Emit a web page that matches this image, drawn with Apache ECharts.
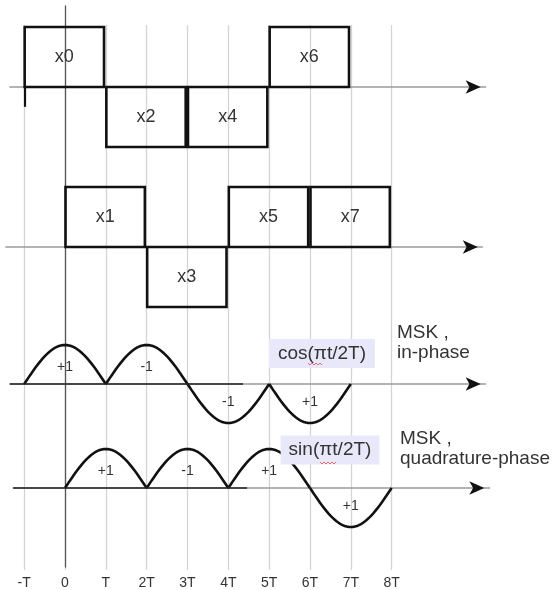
<!DOCTYPE html>
<html>
<head>
<meta charset="utf-8">
<script src="https://cdn.jsdelivr.net/npm/echarts@6/dist/echarts.min.js"></script>
<style>
  html, body { margin: 0; padding: 0; background: #fff; }
  #chart { width: 558px; height: 590px; }
</style>
</head>
<body>
<div id="chart"></div>
<script>
// time axis labels, one per symbol period T
const tickLabels = ['-T', '0', 'T', '2T', '3T', '4T', '5T', '6T', '7T', '8T']

// even bits (in-phase), each lasts 2T
const evenNames = ['x0', 'x2', 'x4', 'x6']
const evenStart = [-1, 1, 3, 5]
const evenBits = [1, -1, -1, 1]

// odd bits (quadrature), offset by T
const oddNames = ['x1', 'x3', 'x5', 'x7']
const oddStart = [0, 2, 4, 6]
const oddBits = [1, -1, 1, 1]

// half-cycle arches of the MSK in-phase component
const cosStart = [-1, 1, 3, 5]
const cosArc = [1, 1, -1, -1]
const cosSign = ['+1', '-1', '-1', '+1']

// half-cycle arches of the MSK quadrature component
const sinStart = [0, 2, 4, 6]
const sinArc = [1, 1, 1, -1]
const sinSign = ['+1', '-1', '+1', '+1']

const FONT = 'Liberation Sans, Arial, sans-serif'
const X0 = 65        // pixel of t = 0
const UNIT = 40.83   // pixels per T

const gridFor = (min, max, top, height) => ({
  left: X0 + min * UNIT,
  right: 558 - (X0 + max * UNIT),
  top: top,
  height: height
})

const rowXAxis = (idx, min, max) => ({
  gridIndex: idx, type: 'value', min: min, max: max,
  axisLine: { show: true, onZero: true, lineStyle: { color: '#9a9a9a', width: 1.5 } },
  axisTick: { show: false }, axisLabel: { show: false }, splitLine: { show: false }
})

const rowYAxis = (idx) => ({
  gridIndex: idx, type: 'value', min: -1, max: 1, show: false
})

const arrowAt = (t) => ({
  symbol: 'arrow', symbolSize: [10, 15], symbolRotate: -90, silent: true,
  itemStyle: { color: '#111' }, label: { show: false },
  data: [{ coord: [t, 0] }]
})

const renderBox = (names) => (params, api) => {
  const s = api.value(0)
  const bit = api.value(1)
  const a = api.coord([s, 0])
  const b = api.coord([s + 2, bit])
  const x1 = a[0] + 0.5
  const x2 = b[0] - 1.8
  const y1 = Math.min(a[1], b[1])
  const y2 = Math.max(a[1], b[1])
  return {
    type: 'group',
    children: [{
      type: 'rect',
      shape: { x: x1, y: y1, width: x2 - x1, height: y2 - y1 },
      style: { fill: 'none', stroke: '#111', lineWidth: 2.6 }
    }, {
      type: 'text',
      style: {
        text: names[params.dataIndex], x: (x1 + x2) / 2, y: (y1 + y2) / 2,
        align: 'center', verticalAlign: 'middle',
        fontSize: 18, fontFamily: FONT, fill: '#333'
      }
    }]
  }
}

const renderArc = (signs) => (params, api) => {
  const s = api.value(0)
  const dir = api.value(1)
  const pts = []
  for (let i = 0; i <= 40; i++) {
    pts.push(api.coord([s + 2 * i / 40, dir * Math.sin(Math.PI * i / 40)]))
  }
  const lp = api.coord([s + 1, dir * 0.45])
  return {
    type: 'group',
    children: [{
      type: 'polyline',
      shape: { points: pts },
      style: { fill: 'none', stroke: '#111', lineWidth: 2.6, lineJoin: 'round' }
    }, {
      type: 'text',
      style: {
        text: signs[params.dataIndex], x: lp[0], y: lp[1] + 1,
        align: 'center', verticalAlign: 'middle',
        fontSize: 14, fontFamily: FONT, fill: '#333'
      }
    }]
  }
}

const darkBase = (from, to) => ({
  symbol: 'none', silent: true, label: { show: false },
  lineStyle: { color: '#222', width: 1.6, type: 'solid' },
  data: [[{ coord: [from, 0] }, { coord: [to, 0] }]]
})

const chart = echarts.init(document.getElementById('chart'))

chart.setOption({
  animation: false,
  backgroundColor: '#fff',
  grid: [
    gridFor(-1, 8, 25, 545),        // 0: vertical grid lines + labels
    gridFor(-1, 8, 6, 561),         // 1: t = 0 axis
    gridFor(-1.35, 10.3, 27, 120),  // 2: even bits
    gridFor(-1.45, 10.22, 187, 120),// 3: odd bits
    gridFor(-1.35, 10.3, 345, 78),  // 4: in-phase
    gridFor(-1.27, 10.4, 449, 78)   // 5: quadrature
  ],
  xAxis: [{
    gridIndex: 0, type: 'value', min: -1, max: 8, interval: 1,
    axisLine: { show: false }, axisTick: { show: false },
    axisLabel: {
      margin: 6, fontSize: 14, fontFamily: FONT, color: '#333',
      formatter: (v) => tickLabels[v + 1]
    },
    splitLine: { show: true, lineStyle: { color: '#d4d4d4', width: 1.3 } }
  }, {
    gridIndex: 1, type: 'value', min: -1, max: 8, show: false
  },
    rowXAxis(2, -1.35, 10.3),
    rowXAxis(3, -1.45, 10.22),
    rowXAxis(4, -1.35, 10.3),
    rowXAxis(5, -1.27, 10.4)
  ],
  yAxis: [{
    gridIndex: 0, type: 'value', min: 0, max: 1, show: false
  }, {
    gridIndex: 1, type: 'value', min: 0, max: 1,
    axisLine: { show: true, onZero: true, lineStyle: { color: '#555', width: 1.3 } },
    axisTick: { show: false }, axisLabel: { show: false }, splitLine: { show: false }
  },
    rowYAxis(2), rowYAxis(3), rowYAxis(4), rowYAxis(5)
  ],
  series: [{
    type: 'custom', xAxisIndex: 2, yAxisIndex: 2,
    renderItem: renderBox(evenNames),
    data: evenStart.map((s, i) => [s, evenBits[i]]),
    markPoint: arrowAt(10.18),
    markLine: {
      symbol: 'none', silent: true, label: { show: false },
      lineStyle: { color: '#111', width: 2.2, type: 'solid' },
      data: [[{ coord: [-0.99, 0] }, { coord: [-0.99, -0.33] }]]
    }
  }, {
    type: 'custom', xAxisIndex: 3, yAxisIndex: 3,
    renderItem: renderBox(oddNames),
    data: oddStart.map((s, i) => [s, oddBits[i]]),
    markPoint: arrowAt(10.11)
  }, {
    type: 'custom', xAxisIndex: 4, yAxisIndex: 4,
    renderItem: renderArc(cosSign),
    data: cosStart.map((s, i) => [s, cosArc[i]]),
    markPoint: arrowAt(10.18),
    markLine: darkBase(-1.35, 4.36)
  }, {
    type: 'custom', xAxisIndex: 5, yAxisIndex: 5,
    renderItem: renderArc(sinSign),
    data: sinStart.map((s, i) => [s, sinArc[i]]),
    markPoint: arrowAt(10.27),
    markLine: darkBase(-1.27, 4.46)
  }],
  graphic: [{
    type: 'text', z: 100, x: 322, y: 353.5,
    style: {
      text: 'cos(πt/2T)', align: 'center', verticalAlign: 'middle',
      fontSize: 19, fontFamily: FONT, fill: '#333',
      backgroundColor: '#e8e8fa', padding: [5, 9]
    }
  }, {
    type: 'text', z: 100, x: 330, y: 450,
    style: {
      text: 'sin(πt/2T)', align: 'center', verticalAlign: 'middle',
      fontSize: 19, fontFamily: FONT, fill: '#333',
      backgroundColor: '#e8e8fa', padding: [5, 8]
    }
  }, {
    type: 'text', z: 100, x: 397, y: 323,
    style: {
      text: 'MSK ,\nin-phase', fontSize: 19, lineHeight: 20,
      fontFamily: FONT, fill: '#333'
    }
  }, {
    type: 'text', z: 100, x: 400, y: 429,
    style: {
      text: 'MSK ,\nquadrature-phase', fontSize: 19, lineHeight: 20,
      fontFamily: FONT, fill: '#333'
    }
  }, {
    // spell-check squiggles under "πt"
    type: 'polyline', z: 101,
    shape: { points: [[308, 363], [310, 365], [312, 363], [314, 365], [316, 363], [318, 365], [320, 363], [322, 365]] },
    style: { stroke: '#e05050', lineWidth: 0.8, fill: 'none' }
  }, {
    type: 'polyline', z: 101,
    shape: { points: [[320, 462], [322, 464], [324, 462], [326, 464], [328, 462], [330, 464], [332, 462], [334, 464], [336, 462]] },
    style: { stroke: '#e05050', lineWidth: 0.8, fill: 'none' }
  }]
})
</script>
</body>
</html>
